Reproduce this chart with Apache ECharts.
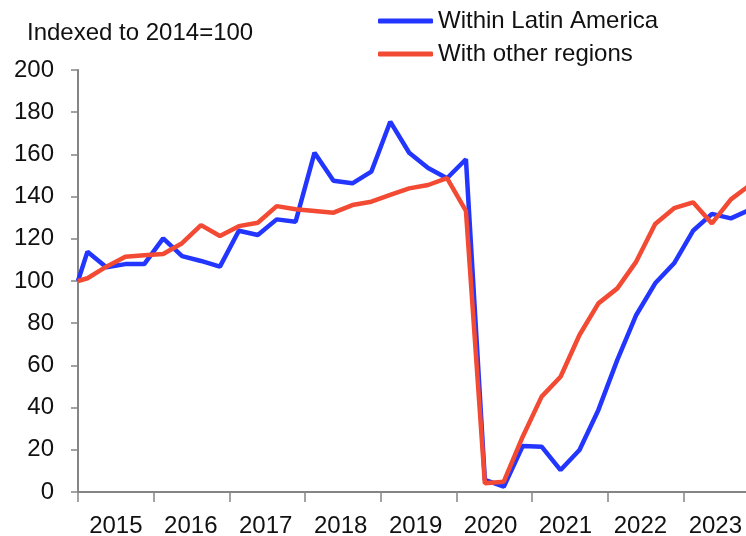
<!DOCTYPE html>
<html>
<head>
<meta charset="utf-8">
<script src="https://cdn.jsdelivr.net/npm/echarts@6/dist/echarts.min.js"></script>
<style>
  html, body { margin: 0; padding: 0; background: #fff; }
  #chart { width: 746px; height: 536px; }
</style>
</head>
<body>
<div id="chart"></div>
<script>
// base point (2014 = 100) then quarters 2015Q1 .. 2023Q4
const periods = ['2014',
  '2015Q1', '2015Q2', '2015Q3', '2015Q4',
  '2016Q1', '2016Q2', '2016Q3', '2016Q4',
  '2017Q1', '2017Q2', '2017Q3', '2017Q4',
  '2018Q1', '2018Q2', '2018Q3', '2018Q4',
  '2019Q1', '2019Q2', '2019Q3', '2019Q4',
  '2020Q1', '2020Q2', '2020Q3', '2020Q4',
  '2021Q1', '2021Q2', '2021Q3', '2021Q4',
  '2022Q1', '2022Q2', '2022Q3', '2022Q4',
  '2023Q1', '2023Q2', '2023Q3', '2023Q4']

const withinLatam = [100,
  113.9, 106.5, 108, 108,
  120.2, 111.8, 109.5, 106.8,
  123.8, 121.8, 129.2, 128.1,
  160.8, 147.5, 146.3, 151.8,
  175.5, 160.8, 153.6, 148.7,
  157.7, 5.7, 2.5, 21.8,
  21.5, 10.4, 19.9, 38.9,
  62.6, 83.9, 98.9, 108.4,
  123.8, 131.8, 129.7, 133.7]

const otherRegions = [100,
  101.3, 106.8, 111.5, 112.2,
  112.8, 117.9, 126.5, 121.3,
  126, 127.6, 135.5, 134,
  133.2, 132.4, 136, 137.6,
  140.8, 143.9, 145.5, 148.7,
  133.2, 4.1, 4.9, 26.2,
  45.2, 54.6, 74.4, 89.4,
  96.5, 109.2, 127, 134.5,
  137.3, 127.3, 138.7, 145.4]

const years = [2015, 2016, 2017, 2018, 2019, 2020, 2021, 2022, 2023]

// position on the axis in quarters since start of 2015 (quarters plotted mid-period)
function xPos(p) {
  if (p.indexOf('Q') < 0) return 0
  const y = +p.slice(0, 4), q = +p.slice(5)
  return (y - 2015) * 4 + q - 0.5
}
const toSeries = vals => periods.map((p, i) => [xPos(p), vals[i]])

const FONT = 'Liberation Sans, Arial, sans-serif'
const AXIS_COLOR = '#858585'
const BLUE = '#2236ff'
const RED = '#f24a33'

const chart = echarts.init(document.getElementById('chart'))
chart.setOption({
  animation: false,
  title: {
    text: 'Indexed to 2014=100',
    left: 27, top: 21, padding: 0,
    textStyle: { fontFamily: FONT, fontSize: 24, fontWeight: 'normal', color: '#111' }
  },
  legend: {
    orient: 'vertical',
    left: 378, top: 9, padding: 0,
    icon: 'roundRect',
    itemWidth: 55, itemHeight: 5, itemGap: 9,
    textStyle: { fontFamily: FONT, fontSize: 24, color: '#111', padding: [0, 0, 0, 0] },
    data: ['Within Latin America', 'With other regions']
  },
  grid: { left: 78, right: 0, top: 70, bottom: 44, outerBoundsMode: 'none' },
  xAxis: {
    type: 'value', min: 0, max: 35.3,
    axisLine: { lineStyle: { color: AXIS_COLOR, width: 2 } },
    axisTick: { show: true, length: 10, lineStyle: { color: AXIS_COLOR, width: 1.5 },
      customValues: years.map((y, i) => i * 4) },
    // year labels sit roughly mid-year, drifting slightly left so 2023 stays in view
    axisLabel: { fontFamily: FONT, fontSize: 24, color: '#111', margin: 22,
      customValues: years.map((y, i) => i * 3.96 + 2),
      formatter: v => String(years[Math.round((v - 2) / 3.96)]) },
    splitLine: { show: false }
  },
  yAxis: {
    type: 'value', min: 0, max: 200, interval: 20,
    axisLine: { show: true, lineStyle: { color: AXIS_COLOR, width: 2 } },
    axisTick: { show: true, length: 7, lineStyle: { color: AXIS_COLOR, width: 1.5 } },
    axisLabel: { fontFamily: FONT, fontSize: 24, color: '#111', margin: 24 },
    splitLine: { show: false }
  },
  series: [
    {
      name: 'Within Latin America', type: 'line',
      data: toSeries(withinLatam),
      symbol: 'none',
      lineStyle: { color: BLUE, width: 4.5 },
      itemStyle: { color: BLUE }
    },
    {
      name: 'With other regions', type: 'line',
      data: toSeries(otherRegions),
      symbol: 'none',
      lineStyle: { color: RED, width: 4.5 },
      itemStyle: { color: RED }
    }
  ]
})
</script>
</body>
</html>
